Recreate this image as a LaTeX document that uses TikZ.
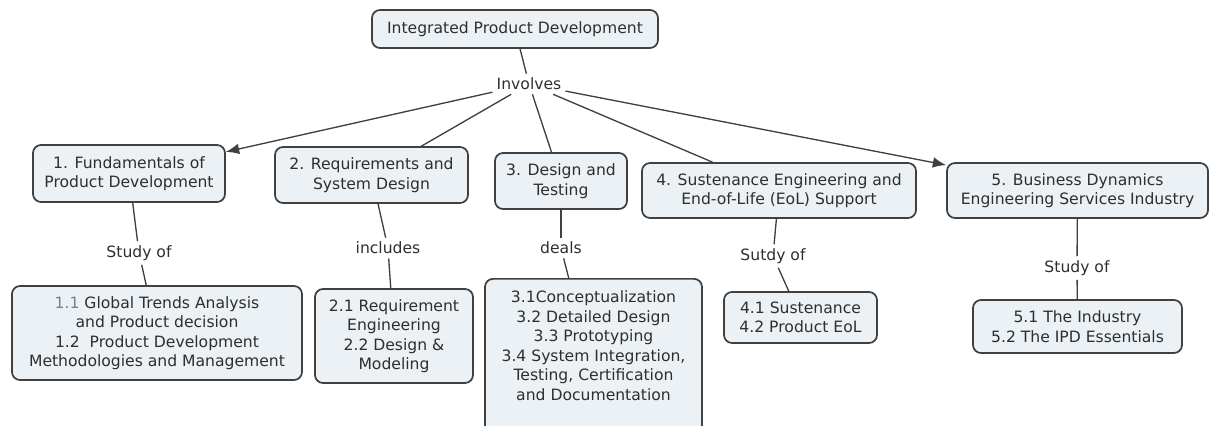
\documentclass[tikz,border=0pt]{standalone}
\usepackage{fontspec}
\setmainfont{DejaVu Sans}
\usetikzlibrary{arrows.meta}
\definecolor{BoxClr}{rgb}{0.92,0.945,0.96}
\definecolor{LineClr}{rgb}{0.25,0.25,0.25}
\definecolor{TextClr}{rgb}{0.18,0.18,0.18}

\begin{document}
\begin{tikzpicture}[x=0.75pt,y=-0.75pt,
  every node/.style={font=\fontsize{11.7}{14.6}\selectfont,text=TextClr},
  concept/.style={draw=LineClr,line width=1.3pt,fill=BoxClr,rounded corners=6pt,align=center,inner sep=0pt},
  link/.style={inner sep=3pt},
  con/.style={draw=LineClr,line width=1pt},
  arr/.style={con,-{Latex[length=10pt,width=8pt]}}]
\useasboundingbox (0,0) rectangle (1209,425);
\clip (0,0) rectangle (1209,425);

\node[concept,minimum width=214.5pt,minimum height=28.5pt] (IPD) at (515,29) {Integrated Product Development};
\node[link] (Inv) at (529,84) {Involves};

\node[concept,minimum width=144pt,minimum height=42.75pt] (F) at (129,173.5) {1. Fundamentals of\\Product Development};
\node[concept,minimum width=144.75pt,minimum height=42pt] (R) at (371.5,175) {2. Requirements and\\System Design};
\node[concept,minimum width=99pt,minimum height=42pt] (D) at (561,181) {3. Design and\\Testing};
\node[concept,minimum width=205.5pt,minimum height=41.25pt] (S) at (779,190.5) {4. Sustenance Engineering and\\End-of-Life (EoL) Support};
\node[concept,minimum width=195.75pt,minimum height=41.25pt] (B) at (1077.5,190.5) {5. Business Dynamics\\Engineering Services Industry};

\node[link] (LF) at (139,253) {Study of};
\node[link] (LR) at (388,248) {includes};
\node[link] (LD) at (561,248) {deals};
\node[link] (LS) at (773,256) {Sutdy of};
\node[link] (LB) at (1077,268) {Study of};

\node[concept,minimum width=217.5pt,minimum height=70.5pt] (F1) at (157,333) {{\color{gray}1.1} Global Trends Analysis\\and Product decision\\1.2\ \ Product Development\\Methodologies and Management};
\node[concept,minimum width=118.5pt,minimum height=70.5pt] (R1) at (394,336) {2.1 Requirement\\Engineering\\2.2 Design \&\\Modeling};
\node[concept,minimum width=162.75pt,inner ysep=9pt,anchor=north] (D1) at (593.5,278) {3.1Conceptualization\\3.2 Detailed Design\\3.3 Prototyping\\3.4 System Integration,\\Testing, Certification\\and Documentation\\[30pt]\mbox{}};
\node[concept,minimum width=114.75pt,minimum height=38.25pt] (S1) at (800.5,317.5) {4.1 Sustenance\\4.2 Product EoL};
\node[concept,minimum width=156.75pt,minimum height=39.75pt] (B1) at (1077.5,326.5) {5.1 The Industry\\5.2 The IPD Essentials};

\draw[con] (IPD) -- (Inv);
\draw[arr] (Inv) -- (F);
\draw[con] (Inv) -- (R);
\draw[con] (Inv) -- (D);
\draw[con] (Inv) -- (S);
\draw[arr] (Inv) -- (B);

\draw[con] (F) -- (LF);
\draw[con] (LF) -- (F1);
\draw[con] (R) -- (LR);
\draw[con] (LR) -- (R1);
\draw[con] (D) -- (LD);
\draw[con] (LD) -- (D1);
\draw[con] (S) -- (LS);
\draw[con] (LS) -- (S1);
\draw[con] (B) -- (LB);
\draw[con] (LB) -- (B1);

\end{tikzpicture}
\end{document}
